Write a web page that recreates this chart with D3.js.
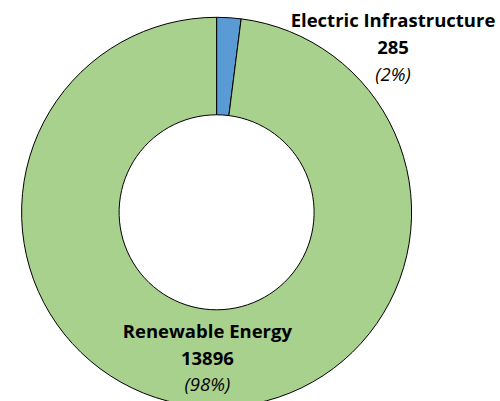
<!DOCTYPE html>
<html>
<head>
<meta charset="utf-8">
<script src="https://cdn.jsdelivr.net/npm/d3@7"></script>
<style>
  html, body { margin: 0; padding: 0; background: #fff; }
  svg { display: block; }
  text { font-family: "Open Sans", "Noto Sans", sans-serif; fill: #000; }
</style>
</head>
<body>
<div id="chart"></div>
<script>
const categories = ["Electric Infrastructure", "Renewable Energy"];
const values = [285, 13896];
const percentLabels = ["(2%)", "(98%)"];
const colors = ["#5B9BD5", "#A9D18E"];

const W = 500, H = 401;
const cx = 216.6, cy = 212.3;
const outerR = 195, innerR = 97.5;

const svg = d3.select("#chart").append("svg").attr("width", W).attr("height", H);
const g = svg.append("g").attr("transform", `translate(${cx},${cy})`);

const pie = d3.pie().sort(null).value(d => d.value);
const arc = d3.arc().innerRadius(innerR).outerRadius(outerR);
const data = categories.map((c, i) => ({ name: c, value: values[i], pct: percentLabels[i], color: colors[i] }));
const arcs = pie(data);

g.selectAll("path").data(arcs).join("path")
  .attr("d", arc)
  .attr("fill", d => d.data.color)
  .attr("stroke", "#000")
  .attr("stroke-width", 1);

const fs = 18.5, lh = 26.7;
function label(sel, x, yMid, d) {
  const t = sel.append("text").attr("text-anchor", "middle").attr("font-size", fs);
  const y0 = yMid - lh + 6.3;
  t.append("tspan").attr("x", x).attr("y", y0).attr("font-weight", "bold").text(d.data.name);
  t.append("tspan").attr("x", x).attr("y", y0 + lh).attr("font-weight", "bold").text(d3.format("d")(d.data.value));
  t.append("tspan").attr("x", x).attr("y", y0 + 2 * lh).attr("font-style", "italic").text(d.data.pct);
}

// Renewable Energy label at arc centroid
const c1 = arc.centroid(arcs[1]);
label(g, c1[0], c1[1], arcs[1]);

// Electric Infrastructure label outside end, to the upper right
label(svg, 393, 47.5, arcs[0]);
</script>
</body>
</html>
